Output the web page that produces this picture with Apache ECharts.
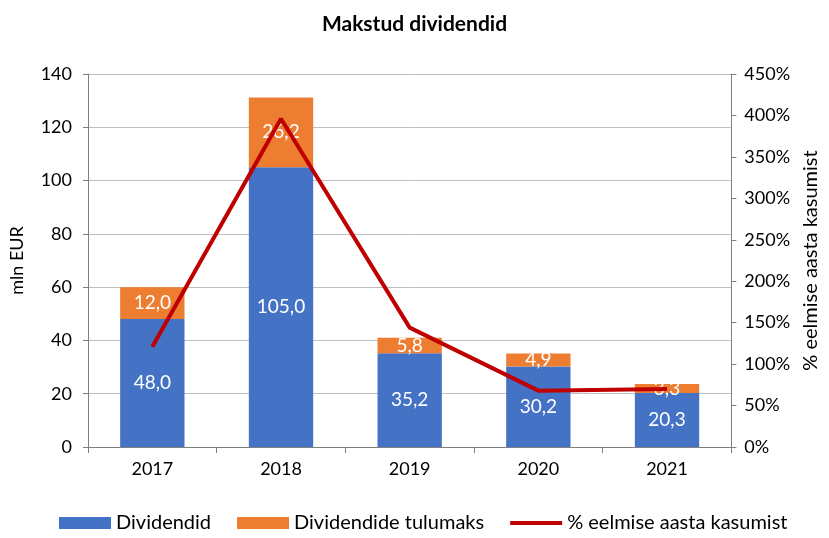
<!DOCTYPE html>
<html>
<head>
<meta charset="utf-8">
<script src="https://cdn.jsdelivr.net/npm/echarts@6/dist/echarts.min.js"></script>
<style>
  html, body { margin: 0; padding: 0; background: #fff; }
  #chart { width: 829px; height: 538px; }
</style>
</head>
<body>
<div id="chart"></div>
<script>
var years = ['2017', '2018', '2019', '2020', '2021'];
var dividendid = [48.0, 105.0, 35.2, 30.2, 20.3];
var tulumaks = [12.0, 26.2, 5.8, 4.9, 3.3];
var protsent = [121, 396, 144, 68, 70];

var font = 'Lato, "Open Sans", sans-serif';
var chart = echarts.init(document.getElementById('chart'));

function fmt(v) { return v.toFixed(1).replace('.', ','); }

var option = {
    animation: false,
    textStyle: { fontFamily: font },
    title: {
        text: 'Makstud dividendid',
        left: 'center',
        top: 9,
        textStyle: { fontFamily: font, fontSize: 21, fontWeight: 'bold', color: '#000' }
    },
    legend: {
        bottom: 0,
        left: 54,
        itemWidth: 52,
        itemHeight: 12,
        itemGap: 26,
        textStyle: { fontFamily: font, fontSize: 20, color: '#000' },
        data: [
            { name: 'Dividendid', icon: 'rect' },
            { name: 'Dividendide tulumaks', icon: 'rect' },
            { name: '% eelmise aasta kasumist', icon: 'path://M0,0L0,0.01M0,4L52,4L52,8L0,8ZM52,12L52,12.01' }
        ]
    },
    grid: { left: 88, right: 96, top: 74, bottom: 91 },
    xAxis: {
        type: 'category',
        data: years,
        axisLine: { lineStyle: { color: '#7f7f7f' } },
        axisTick: { show: true, length: 6, lineStyle: { color: '#7f7f7f' } },
        axisLabel: { fontSize: 18, color: '#000', margin: 13 }
    },
    yAxis: [
        {
            type: 'value',
            min: 0, max: 140, interval: 20,
            name: 'mln EUR',
            nameLocation: 'middle',
            nameGap: 62,
            nameTextStyle: { fontSize: 18, color: '#000' },
            axisLine: { show: true, lineStyle: { color: '#7f7f7f' } },
            axisTick: { show: true, length: 5, lineStyle: { color: '#7f7f7f' } },
            axisLabel: { fontSize: 18, color: '#000', margin: 16 },
            splitLine: { lineStyle: { color: '#bfbfbf' } }
        },
        {
            type: 'value',
            min: 0, max: 450, interval: 50,
            name: '% eelmise aasta kasumist',
            nameLocation: 'middle',
            nameGap: 50,
            nameRotate: 90,
            nameTextStyle: { fontSize: 20, color: '#000' },
            axisLine: { show: true, lineStyle: { color: '#7f7f7f' } },
            axisTick: { show: true, length: 5, lineStyle: { color: '#7f7f7f' } },
            axisLabel: { fontSize: 18, color: '#000', margin: 13, formatter: '{value}%' },
            splitLine: { show: false }
        }
    ],
    series: [
        {
            name: 'Dividendid',
            type: 'bar',
            stack: 'd',
            barWidth: '50%',
            itemStyle: { color: '#4472c4' },
            label: {
                show: true, position: 'inside', color: '#fff', fontSize: 19,
                formatter: function (p) { return fmt(p.value); }
            },
            data: dividendid
        },
        {
            name: 'Dividendide tulumaks',
            type: 'bar',
            stack: 'd',
            itemStyle: { color: '#ed7d31' },
            label: {
                show: true, position: 'inside', color: '#fff', fontSize: 19,
                formatter: function (p) { return fmt(p.value); }
            },
            data: tulumaks
        },
        {
            name: '% eelmise aasta kasumist',
            type: 'line',
            yAxisIndex: 1,
            symbol: 'none',
            lineStyle: { color: '#c00000', width: 4 },
            itemStyle: { color: '#c00000' },
            data: protsent
        }
    ]
};

chart.setOption(option);
window.addEventListener('resize', chart.resize);
</script>
</body>
</html>
